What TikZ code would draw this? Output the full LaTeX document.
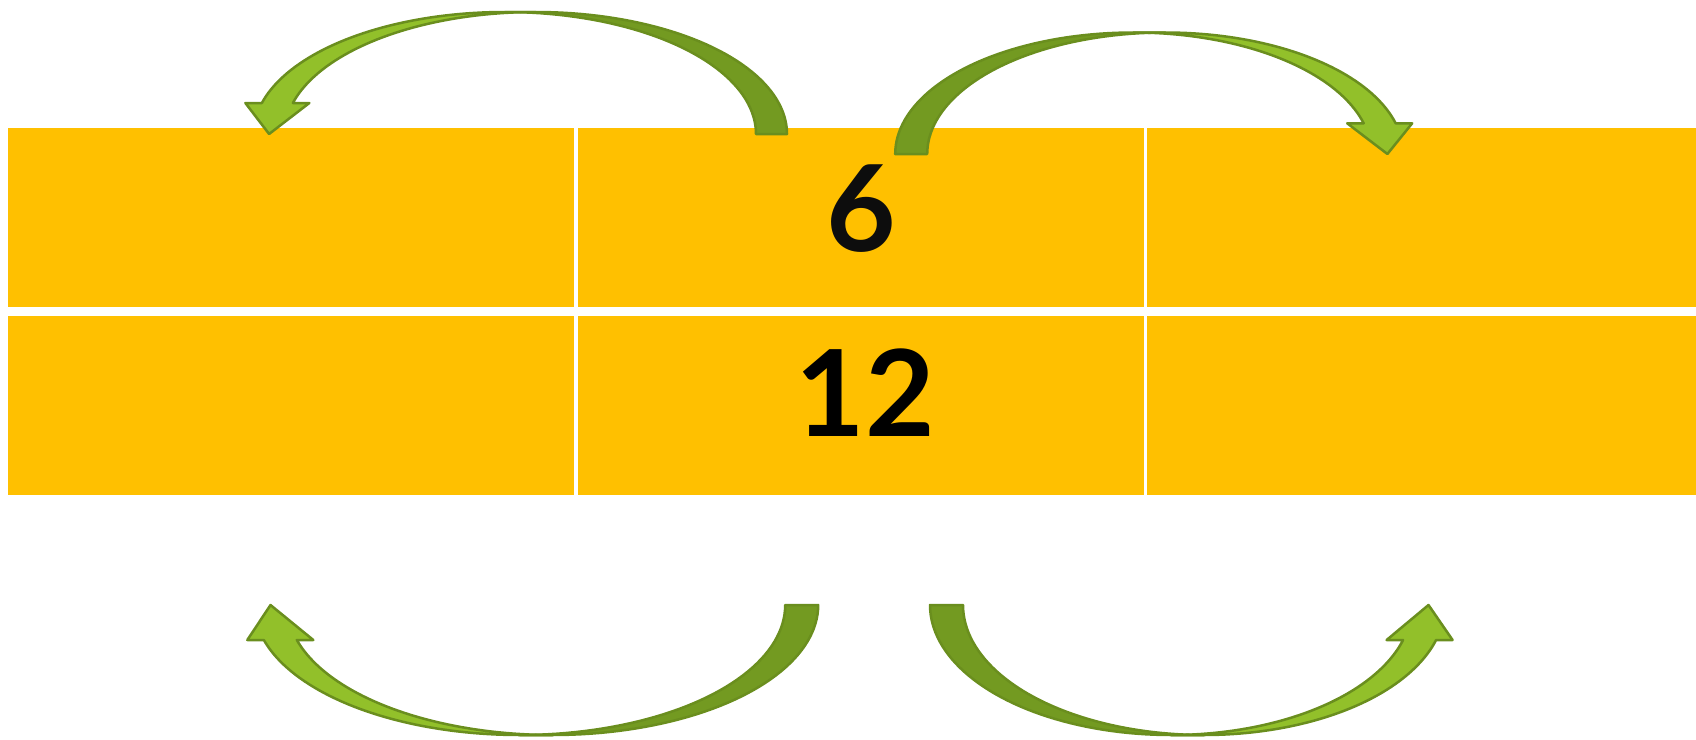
\documentclass[tikz,border=0pt]{standalone}
\usepackage{fontspec}
\setmainfont{Lato}
\usepackage{tikz}
\usetikzlibrary{positioning}
\definecolor{Micelda}{RGB}{255,192,0}
\definecolor{Miverde1}{RGB}{146,192,42}
\definecolor{Miverde2}{RGB}{115,154,33}
\definecolor{Miborde}{RGB}{106,142,30}

%% flecha curva: #1 cx  #2 base  #3 xscale  #4 yscale  #5 radio  #6 alto  #7 grosor  #8 punta
\newcommand\flechacurva[8]{%
  \begin{scope}[shift={(#1,#2)}, xscale=#3, yscale=#4]
    \pgfmathsetmacro\angpunta{180-asin(#8/#6)}
    % parte trasera (cola)
    \filldraw[dorso]
      plot[domain=0:90, samples=45] ({#5*cos(\x)}, {-#6*sin(\x)})
      -- plot[domain=90:0, samples=45] ({-#7+#5*cos(\x)}, {-#6*sin(\x)})
      -- cycle;
    % parte delantera (punta)
    \filldraw[frente]
      plot[domain=90:\angpunta, samples=45] ({-#7+#5*cos(\x)}, {-#6*sin(\x)})
      -- ({-#7+#5*cos(\angpunta)-16.5}, {-#8})
      -- ({-#7/2-#5}, 0)
      -- ({#5*cos(\angpunta)+16.5}, {-#8})
      -- plot[domain=\angpunta:90, samples=45] ({#5*cos(\x)}, {-#6*sin(\x)})
      -- cycle;
  \end{scope}}

\begin{document}
\begin{tikzpicture}[
  x=1pt, y=-1pt,
  celda/.style={
    rectangle, fill=Micelda, inner sep=0pt,
    minimum width=566.4pt, minimum height=179pt
  },
  cifra/.style={font=\fontsize{120}{120}\selectfont\bfseries, anchor=base, inner sep=0pt},
  dorso/.style={fill=Miverde2, draw=Miborde, line width=2.5pt, line join=round},
  frente/.style={fill=Miverde1, draw=Miborde, line width=2.5pt, line join=round}
]
\useasboundingbox (0,0) rectangle (1696,739);

%% ─────────────────────────────────────────────────────────
%% Tabla: 2 filas x 3 columnas
%% ─────────────────────────────────────────────────────────
\node[celda, anchor=north west] (c11) at (7.6,128) {};
\node[celda, right=3pt of c11] (c12) {};
\node[celda, right=3pt of c12] (c13) {};

\node[celda, below=8pt of c11] (c21) {};
\node[celda, right=3pt of c21] (c22) {};
\node[celda, right=3pt of c22] (c23) {};

\node[cifra, text=black!95] (n6)  at (861,251) {6};
\node[cifra]                (n12) at (865,436) {12};

%% flechas arriba
\flechacurva{535.8}{134}{1}{1}{251.2}{122}{31}{31}
\flechacurva{1133.3}{154}{-1}{1}{238.1}{121.5}{32}{30.7}

%% flechas abajo
\flechacurva{552.6}{605}{1}{-1}{265.6}{130}{33}{35}
\flechacurva{1171}{605}{-1}{-1}{241}{130}{33}{35}

\end{tikzpicture}
\end{document}
